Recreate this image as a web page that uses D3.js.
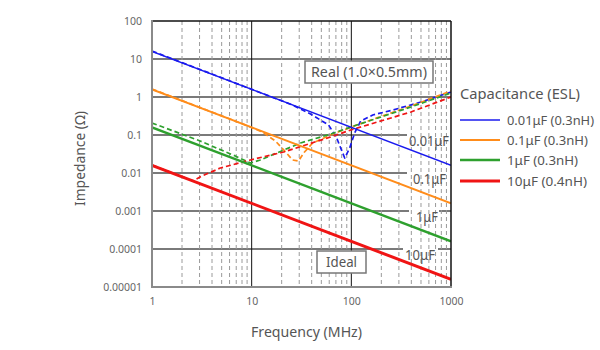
<!DOCTYPE html>
<html>
<head>
<meta charset="utf-8">
<script src="https://cdn.jsdelivr.net/npm/d3@7/dist/d3.min.js"></script>
<style>
  html, body { margin: 0; padding: 0; background: #fff; }
  svg { display: block; font-family: "Noto Sans", "Open Sans", sans-serif; }
</style>
</head>
<body>
<svg id="chart" width="600" height="350"></svg>
<script>
// ---------- data ----------
const freqTicks = [1, 10, 100, 1000];
const freqTickLabels = ["1", "10", "100", "1000"];
const impTicks = [100, 10, 1, 0.1, 0.01, 0.001, 0.0001, 0.00001];
const impTickLabels = ["100", "10", "1", "0.1", "0.01", "0.001", "0.0001", "0.00001"];
const minorFreqs = [2,3,4,5,6,7,8,9,20,30,40,50,60,70,80,90,200,300,400,500,600,700,800,900];

const seriesNames = ["0.01μF (0.3nH)", "0.1μF (0.3nH)", "1μF (0.3nH)", "10μF (0.4nH)"];
const capLabels = ["0.01μF", "0.1μF", "1μF", "10μF"];
const capLabelLevels = [0.1, 0.01, 0.001, 0.0001];

// ideal capacitor lines (end points)
const idealFreq = [1, 1000];
const ideal001 = [15.9, 0.0159];
const ideal01 = [1.59, 0.00159];
const ideal1 = [0.159, 0.000159];
const ideal10 = [0.0159, 0.0000159];

// real capacitor curves
const real001F = [1, 25.7, 39, 59.2, 71.3, 85.8, 96.3, 108, 124, 164, 261, 500, 1000];
const real001Z = [16.2, 0.616, 0.357, 0.183, 0.0834, 0.0248, 0.0455, 0.113, 0.234, 0.336, 0.455, 0.738, 1.35];
const real01F = [1, 7.69, 12.8, 17.3, 21.9, 25.7, 29.5, 33.9, 40.9, 62, 106, 396, 1000];
const real01Z = [1.62, 0.207, 0.12, 0.0695, 0.0357, 0.022, 0.0207, 0.0357, 0.0616, 0.1, 0.172, 0.58, 1.44];
const real1F = [1, 3.04, 6.85, 9.7, 12.2, 30.9, 62, 106, 396, 1000];
const real1Z = [0.207, 0.0695, 0.028, 0.0183, 0.022, 0.0616, 0.106, 0.172, 0.546, 1.27];
const real10F = [1, 1.7, 2.59, 3.04, 4.84, 9.7, 20.9, 62, 98.6, 396, 1000];
const real10Z = [0.0162, 0.0094, 0.0062, 0.0079, 0.0135, 0.022, 0.0357, 0.0886, 0.1355, 0.403, 1.0];

// ---------- styles ----------
const colors = ["#1a1aee", "#ff8c1a", "#2ea02e", "#f01414"];
const solidW = [1.5, 2, 2.5, 3];
const textCol = "#555";

const svg = d3.select("#chart");
const L = 152, R = 451, T = 21, B = 287;
const x = d3.scaleLog().domain([1, 1000]).range([L, R]);
const y = d3.scaleLog().domain([0.00001, 100]).range([B, T]);

// fixed font size, exact rendered width
function fit(sel, width, size) {
  return sel.attr("font-size", size).attr("textLength", width).attr("lengthAdjust", "spacingAndGlyphs");
}

svg.append("rect").attr("width", 600).attr("height", 350).attr("fill", "#fff");

// horizontal major gridlines
svg.append("g").selectAll("line").data(impTicks.slice(1, -1)).join("line")
  .attr("x1", L).attr("x2", R).attr("y1", d => y(d)).attr("y2", d => y(d))
  .attr("stroke", "#7a7a7a").attr("stroke-width", 2);

// white gaps for the capacitance labels
const gapX = [[407, 452], [407, 452], [409, 439], [403, 438]];
svg.append("g").selectAll("rect").data(capLabelLevels).join("rect")
  .attr("x", (d, i) => gapX[i][0]).attr("width", (d, i) => gapX[i][1] - gapX[i][0])
  .attr("y", d => y(d) - 2).attr("height", 4).attr("fill", "#fff");

// minor vertical dashed gridlines
svg.append("g").selectAll("line").data(minorFreqs).join("line")
  .attr("x1", d => x(d)).attr("x2", d => x(d)).attr("y1", T).attr("y2", B)
  .attr("stroke", "#9a9a9a").attr("stroke-width", 1).attr("stroke-dasharray", "4,3");
// major vertical gridlines
svg.append("g").selectAll("line").data([10, 100]).join("line")
  .attr("x1", d => x(d)).attr("x2", d => x(d)).attr("y1", T).attr("y2", B)
  .attr("stroke", "#111").attr("stroke-width", 1);

// capacitance labels
const capLabelX = [409, 413, 416, 405];
const capLabelW = [40, 33, 22, 30];
capLabels.forEach((c, i) => {
  const t = svg.append("text").attr("x", capLabelX[i]).attr("y", y(capLabelLevels[i]) + 10.5)
    .attr("fill", textCol).text(c);
  fit(t, capLabelW[i], 13.5);
});

// boxes
function box(cx, cy, w, h, label, tw) {
  svg.append("rect").attr("x", cx - w / 2).attr("y", cy - h / 2).attr("width", w).attr("height", h)
    .attr("fill", "#fff").attr("stroke", "#777").attr("stroke-width", 1.5);
  const t = svg.append("text").attr("x", cx - tw / 2).attr("y", cy + 5)
    .attr("fill", textCol).text(label);
  fit(t, tw, 14);
}
box(369, 72, 128, 22, "Real (1.0×0.5mm)", 116);
box(341.5, 262, 49, 22, "Ideal", 31);

// clip
svg.append("clipPath").attr("id", "clip").append("rect")
  .attr("x", L).attr("y", T).attr("width", R - L).attr("height", B - T);
const plot = svg.append("g").attr("clip-path", "url(#clip)");

const line = d3.line().x(d => x(d[0])).y(d => y(d[1]));
const realSets = [[real001F, real001Z], [real01F, real01Z], [real1F, real1Z], [real10F, real10Z]];
const idealSets = [ideal001, ideal01, ideal1, ideal10];

// dashed real curves
realSets.forEach((s, i) => {
  plot.append("path").datum(s[0].map((f, k) => [f, s[1][k]]))
    .attr("d", line).attr("fill", "none").attr("stroke", colors[i])
    .attr("stroke-width", 1.7).attr("stroke-dasharray", "5,3").attr("stroke-linejoin", "round");
});
// solid ideal lines
idealSets.forEach((s, i) => {
  plot.append("path").datum(idealFreq.map((f, k) => [f, s[k]]))
    .attr("d", line).attr("fill", "none").attr("stroke", colors[i]).attr("stroke-width", solidW[i]);
});

// frame
svg.append("line").attr("x1", L).attr("x2", R).attr("y1", T).attr("y2", T).attr("stroke", "#111").attr("stroke-width", 1.5);
svg.append("line").attr("x1", R).attr("x2", R).attr("y1", T).attr("y2", B).attr("stroke", "#111").attr("stroke-width", 1.5);
svg.append("line").attr("x1", L).attr("x2", L).attr("y1", T - 1).attr("y2", B + 1).attr("stroke", "#8a8a8a").attr("stroke-width", 2);
svg.append("line").attr("x1", L - 1).attr("x2", R + 1).attr("y1", B).attr("y2", B).attr("stroke", "#8a8a8a").attr("stroke-width", 2);

// axes tick labels
const yAxis = d3.axisLeft(y).tickValues(impTicks).tickFormat((d, i) => impTickLabels[i]).tickSize(0).tickPadding(10);
const gy = svg.append("g").attr("transform", `translate(${L},0)`).call(yAxis);
gy.select(".domain").remove();
gy.selectAll("text").attr("font-size", 10.5).attr("fill", "#666").attr("font-family", "Noto Sans, sans-serif");

const xAxis = d3.axisBottom(x).tickValues(freqTicks).tickFormat((d, i) => freqTickLabels[i]).tickSize(0).tickPadding(11);
const gx = svg.append("g").attr("transform", `translate(0,${B})`).call(xAxis);
gx.select(".domain").remove();
gx.selectAll("text").attr("font-size", 10.5).attr("fill", "#666").attr("font-family", "Noto Sans, sans-serif");

// axis titles
fit(svg.append("text").attr("transform", "translate(85,206) rotate(-90)")
  .attr("fill", textCol).text("Impedance (Ω)"), 95, 14);
fit(svg.append("text").attr("x", 251).attr("y", 337)
  .attr("fill", textCol).text("Frequency (MHz)"), 111, 14);

// legend
fit(svg.append("text").attr("x", 460).attr("y", 99).attr("fill", textCol).text("Capacitance (ESL)"), 120, 14);
const legY = [120, 140, 160, 181];
const legW = [87, 81, 71, 80];
const lg = svg.append("g");
seriesNames.forEach((n, i) => {
  lg.append("line").attr("x1", 460).attr("x2", 500).attr("y1", legY[i]).attr("y2", legY[i])
    .attr("stroke", colors[i]).attr("stroke-width", solidW[i]);
  fit(lg.append("text").attr("x", 507).attr("y", legY[i] + 5).attr("fill", textCol).text(n), legW[i], 13);
});
</script>
</body>
</html>
